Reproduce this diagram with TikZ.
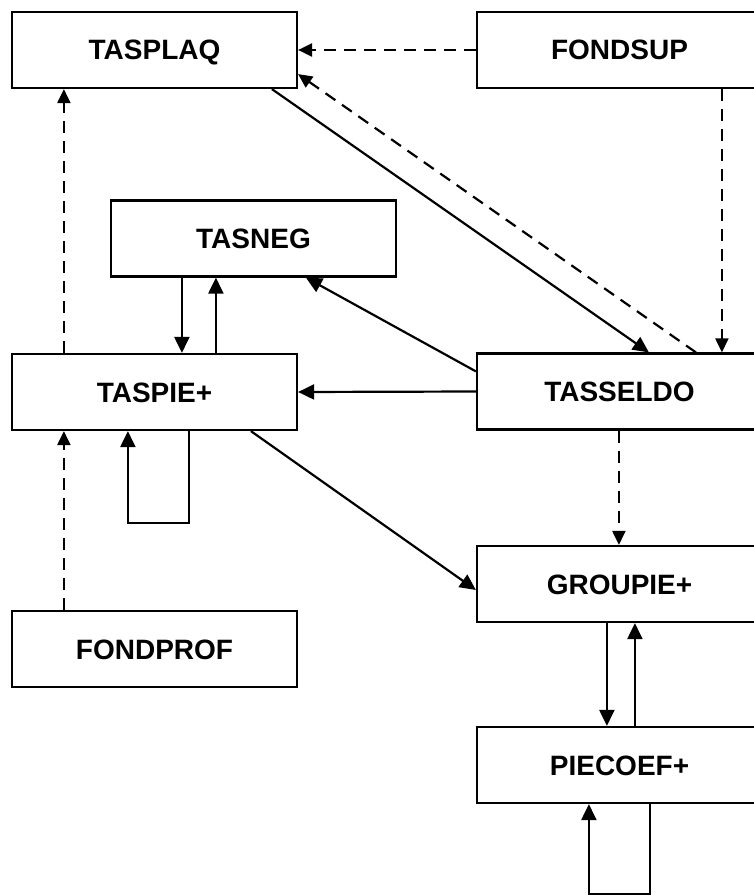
\documentclass[tikz,border=0pt]{standalone}
\usepackage{fontspec}
\setmainfont{Liberation Sans}
\usetikzlibrary{arrows.meta,calc}
\begin{document}
\begin{tikzpicture}[x=1pt,y=-1pt,
  box/.style={draw, line width=2.2pt, minimum width=285pt, minimum height=76pt, inner sep=0pt,
    text height=20pt, text depth=0pt,
    font=\fontsize{28}{30}\selectfont\bfseries, anchor=center},
  link/.style={line width=2.2pt, -{Triangle[length=16pt,width=15pt]}},
  dlink/.style={line width=2.2pt, dash pattern=on 12pt off 8pt, -{Triangle[length=14pt,width=13pt]}}]
\useasboundingbox (0,0) rectangle (754,896);
\clip (0,0) rectangle (754,896);
\fill[white] (0,0) rectangle (754,896);
% nodes
\node[box] (tasplaq)  at (154.5,50)    {TASPLAQ};
\node[box] (fondsup)  at (619.5,50)    {FONDSUP};
\node[box] (tasneg)   at (253.5,238.5) {TASNEG};
\node[box] (taspie)   at (154.5,392)   {TASPIE+};
\node[box] (tasseldo) at (619.5,391.5) {TASSELDO};
\node[box] (groupie)  at (619.5,584)   {GROUPIE+};
\node[box] (fondprof) at (154.5,649)   {FONDPROF};
\node[box] (piecoef)  at (619.5,765)   {PIECOEF+};
% connectors
\draw[dlink] (fondsup.west) -- (tasplaq.east);
\draw[dlink] ($(tasseldo.north west)+(220,0)$) -- ($(tasplaq.south east)+(0,-15)$);
\draw[link] ($(tasplaq.south west)+(261,0)$) -- ($(tasseldo.north west)+(173,0)$);
\draw[dlink] ($(fondsup.south west)+(246,0)$) -- ($(tasseldo.north west)+(246,0)$);
\draw[dlink] ($(taspie.north west)+(53,0)$) -- ($(tasplaq.south west)+(53,0)$);
\draw[link] ($(tasneg.south west)+(72,0)$) -- ($(taspie.north west)+(171,0)$);
\draw[link] ($(taspie.north west)+(205,0)$) -- ($(tasneg.south west)+(106,0)$);
\draw[link] ($(tasseldo.north west)+(0,19)$) -- ($(tasneg.south west)+(196,0)$);
\draw[link] (tasseldo.west) -- (taspie.east);
\draw[link] ($(taspie.south west)+(178,0)$) -- ++(0,92) -| ($(taspie.south west)+(117,0)$);
\draw[dlink] ($(fondprof.north west)+(53,0)$) -- ($(taspie.south west)+(53,0)$);
\draw[link] ($(taspie.south west)+(240,0)$) -- ($(groupie.west)+(0,6)$);
\draw[dlink] ($(tasseldo.south west)+(143,0)$) -- ($(groupie.north west)+(143,0)$);
\draw[link] ($(groupie.south west)+(131,0)$) -- ($(piecoef.north west)+(131,0)$);
\draw[link] ($(piecoef.north west)+(159,0)$) -- ($(groupie.south west)+(159,0)$);
\draw[link] ($(piecoef.south west)+(174,0)$) -- ++(0,90) -| ($(piecoef.south west)+(113,0)$);
\end{tikzpicture}
\end{document}
